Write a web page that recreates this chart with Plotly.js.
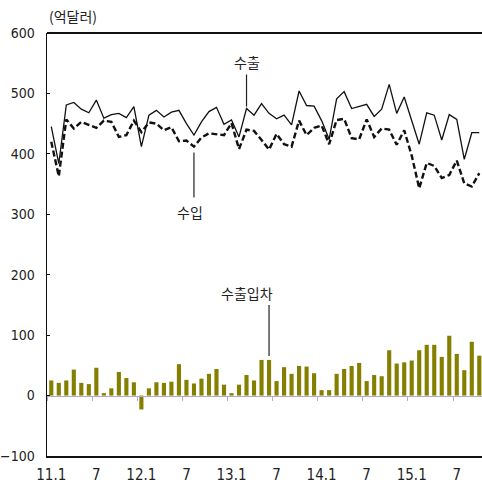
<!DOCTYPE html>
<html>
<head>
<meta charset="utf-8">
<script src="https://cdn.plot.ly/plotly-3.0.1.min.js"></script>
<style>html,body{margin:0;padding:0;background:#fff;}#chart{width:482px;height:488px;}</style>
</head>
<body>
<div id="chart"></div>
<script>
// Monthly, 2011.1 – 2015.10 (억달러)
const years = ['11','12','13','14','15'];
const months = [];
years.forEach(y => { for (let m = 1; m <= 12; m++) { if (y === '15' && m > 10) break; months.push(y + '.' + m); } });

const exports = [445,384,481,485,474,468,489,459,465,467,
                 460,478,412,464,472,461,469,472,450,431,
                 453,470,477,449,456,428,475,464,483,467,
                 458,464,448,504,480,479,455,424,491,503,
                 475,478,482,462,474,515,467,494,456,416,
                 468,464,423,465,457,391,435,435];
const imports = [420,363,457,442,453,448,443,455,453,428,
                 431,455,436,452,450,439,444,421,422,412,
                 427,434,433,431,451,408,440,438,423,407,
                 433,416,412,455,431,443,447,416,456,458,
                 426,424,457,428,442,440,415,439,397,343,
                 385,380,360,365,389,351,346,368];
const balance = [25,21,25,43,21,19,46,4,12,39,
                 29,22,-23,12,22,21,23,52,26,20,
                 28,36,44,18,4,18,34,25,59,59,
                 24,47,36,49,48,37,9,9,36,44,
                 49,54,24,34,32,75,53,55,58,75,
                 84,84,64,99,69,42,89,66];

const tickMonths = ['11.1','11.7','12.1','12.7','13.1','13.7','14.1','14.7','15.1','15.7'];
const tickLabels = ['11.1','7','12.1','7','13.1','7','14.1','7','15.1','7'];
const yTicks = [-100,0,100,200,300,400,500,600];

const xs = months.map((m, i) => i);
const tickIdx = tickMonths.map(m => months.indexOf(m));
const boundaries = tickIdx.map(i => i - 0.5);

const NUM_FONT = '"Liberation Sans Narrow", "DejaVu Sans Condensed", "Arial Narrow", sans-serif';
const KR_FONT = '"Noto Sans CJK KR", "Noto Sans", sans-serif';
const XR = [-0.57, 57.36];

const traces = [
  { type:'bar', x: xs, y: balance, xaxis:'x2', yaxis:'y',
    marker:{color:'#857f00'}, hoverinfo:'skip' },
  { type:'scatter', mode:'lines', x: xs, y: exports,
    line:{color:'#111', width:1.3}, hoverinfo:'skip' },
  { type:'scatter', mode:'lines', x: xs, y: imports,
    line:{color:'#111', width:2.4, dash:'6px,3px'}, hoverinfo:'skip' }
];

const iExp = 26, iImp = 19, iBal = 29;

const layout = {
  width:482, height:488,
  margin:{l:47, r:0, t:33, b:32, pad:0},
  paper_bgcolor:'#fff', plot_bgcolor:'#fff',
  showlegend:false,
  bargap:0.45,
  font:{family:NUM_FONT, size:14, color:'#222'},
  xaxis:{range:XR, tickmode:'array', tickvals:tickIdx, ticktext:tickLabels,
         showline:true, linecolor:'#111', linewidth:1.5, ticks:'',
         showgrid:false, zeroline:false, ticklabelstandoff:4,
         tickfont:{family:NUM_FONT, size:15, color:'#222'}},
  xaxis2:{overlaying:'x', anchor:'free', position:100/700, range:XR,
          showline:true, linecolor:'#b3a6d1', linewidth:1.2,
          ticks:'outside', ticklen:4, tickwidth:1, tickcolor:'#b3a6d1',
          tickmode:'array', tickvals:boundaries, showticklabels:false,
          showgrid:false, zeroline:false},
  yaxis:{range:[-100,600], tickmode:'array', tickvals:yTicks,
         ticks:'inside', ticklen:3, tickcolor:'#111',
         showline:true, linecolor:'#111', linewidth:1.5,
         showgrid:false, zeroline:false, ticklabelstandoff:8,
         tickfont:{family:NUM_FONT, size:14, color:'#222'}},
  shapes:[
    {type:'line', xref:'paper', yref:'paper', x0:0, x1:1, y0:1, y1:1,
     line:{color:'#111', width:1.8}},
    {type:'line', xref:'x', yref:'y', ysizemode:'pixel', yanchor:exports[iExp],
     x0:iExp, x1:iExp, y0:2, y1:34, line:{color:'#222', width:1.2}},
    {type:'line', xref:'x', yref:'y', ysizemode:'pixel', yanchor:imports[iImp],
     x0:iImp, x1:iImp, y0:-6, y1:-51, line:{color:'#222', width:1.2}},
    {type:'line', xref:'x', yref:'y', ysizemode:'pixel', yanchor:balance[iBal],
     x0:iBal, x1:iBal, y0:4, y1:55, line:{color:'#222', width:1.2}}
  ],
  annotations:[
    {xref:'paper', yref:'paper', x:0, y:1, xanchor:'left', yanchor:'bottom',
     xshift:0, yshift:5, text:'(억달러)', showarrow:false,
     font:{family:KR_FONT, size:14, color:'#222'}},
    {x:iExp, y:exports[iExp], yshift:47, text:'수출', showarrow:false,
     font:{family:KR_FONT, size:14, color:'#222'}},
    {x:iImp, y:imports[iImp], xshift:-4, yshift:-65, text:'수입', showarrow:false,
     font:{family:KR_FONT, size:14, color:'#222'}},
    {x:iBal, y:balance[iBal], xshift:-22, yshift:67, text:'수출입차', showarrow:false,
     font:{family:KR_FONT, size:14, color:'#222'}}
  ]
};

Plotly.newPlot('chart', traces, layout, {staticPlot:true, displayModeBar:false});
</script>
</body>
</html>
